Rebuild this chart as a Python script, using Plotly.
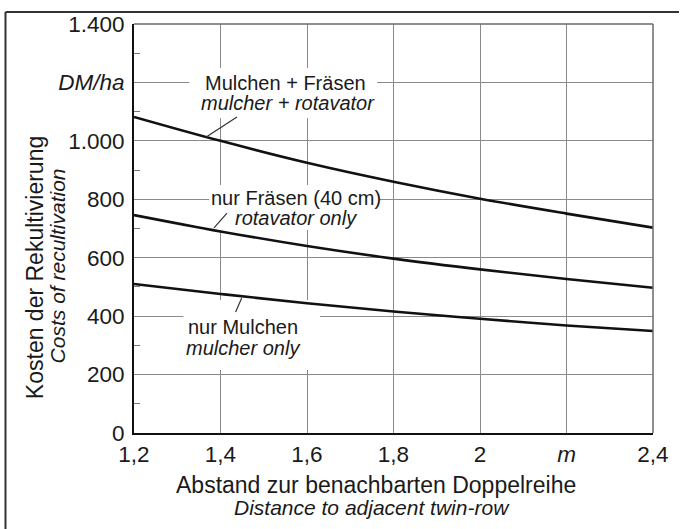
import plotly.graph_objects as go

# ---- data ----
distance = [1.2, 1.4, 1.6, 1.8, 2.0, 2.2, 2.4]
mulch_plus_rotavator = [1082, 1000, 925, 860, 802, 751, 703]
rotavator_only = [746, 690, 640, 597, 560, 527, 497]
mulcher_only = [510, 476, 444, 416, 391, 368, 349]

x_tickvals = [1.2, 1.4, 1.6, 1.8, 2.0, 2.2, 2.4]
x_ticktext = ["1,2", "1,4", "1,6", "1,8", "2", "<i>m</i>", "2,4"]
y_tickvals = [0, 200, 400, 600, 800, 1000, 1200, 1400]
y_ticktext = ["0", "200", "400", "600", "800", "1.000", "<i>DM/ha</i>", "1.400"]
y_minor = [100, 300, 500, 700, 900, 1100, 1300]

FONT = "Liberation Sans, Arial, Helvetica, sans-serif"
TXT = "#1a1a1a"

fig = go.Figure()
for ys in (mulch_plus_rotavator, rotavator_only, mulcher_only):
    fig.add_trace(go.Scatter(x=distance, y=ys, mode="lines",
                             line=dict(color="#111", width=2.6, shape="spline"),
                             showlegend=False, hoverinfo="skip"))

fig.update_layout(
    width=681, height=529,
    margin=dict(l=134, r=22, t=24, b=96),
    paper_bgcolor="white", plot_bgcolor="white",
    font=dict(family=FONT, color=TXT),
    showlegend=False,
)

fig.update_xaxes(range=[1.2, 2.4], tickvals=x_tickvals, ticktext=x_ticktext,
                 tickfont=dict(size=22.5, family=FONT, color=TXT),
                 showgrid=True, gridcolor="#8a8a8a", gridwidth=1,
                 showline=True, linecolor="#111", linewidth=2,
                 ticks="", ticklabelstandoff=0, zeroline=False)
fig.update_yaxes(range=[0, 1400], tickvals=y_tickvals, ticktext=y_ticktext,
                 tickfont=dict(size=22.5, family=FONT, color=TXT),
                 showgrid=True, gridcolor="#8a8a8a", gridwidth=1,
                 showline=True, linecolor="#111", linewidth=2,
                 ticks="", ticklabelstandoff=3, zeroline=False,
                 minor=dict(tickvals=y_minor, ticks="inside", ticklen=6,
                            tickcolor="#777", tickwidth=1, showgrid=False))

# white knock-out boxes behind the curve labels (between grid and traces)
for (x0, x1, y0, y1) in [(1.328, 1.762, 1078, 1249),
                         (1.374, 1.767, 695, 849),
                         (1.314, 1.630, 216, 455)]:
    fig.add_shape(type="rect", xref="x", yref="y", x0=x0, x1=x1, y0=y0, y1=y1,
                  fillcolor="white", line=dict(width=0), layer="between")

# top / right plot border (gray)
fig.add_shape(type="line", xref="paper", yref="paper", x0=0, x1=1, y0=1, y1=1,
              line=dict(color="#6a6a6a", width=1.5))
fig.add_shape(type="line", xref="paper", yref="paper", x0=1, x1=1, y0=0, y1=1,
              line=dict(color="#6a6a6a", width=1.5))

# outer frame (top and left)
fig.add_shape(type="line", xref="paper", yref="paper", x0=-0.2476, x1=1.05,
              y0=1.0293, y1=1.0293, line=dict(color="#333", width=2))
fig.add_shape(type="line", xref="paper", yref="paper", x0=-0.2476, x1=-0.2476,
              y0=1.0293, y1=-0.25, line=dict(color="#333", width=2))

# leader lines
for (xa, ya, xb, yb) in [(1.367, 1013, 1.438, 1082),
                         (1.385, 702, 1.415, 753),
                         (1.435, 414, 1.449, 462)]:
    fig.add_shape(type="line", xref="x", yref="y", x0=xa, y0=ya, x1=xb, y1=yb,
                  line=dict(color="#333", width=1.2))

labels = [
    (1.5497, 1198, "Mulchen + Fräsen"),
    (1.5566, 1130, "<i>mulcher + rotavator</i>"),
    (1.5737, 805, "nur Fräsen (40 cm)"),
    (1.5737, 737, "<i>rotavator only</i>"),
    (1.4514, 363, "nur Mulchen"),
    (1.4514, 291, "<i>mulcher only</i>"),
]
for x, y, t in labels:
    fig.add_annotation(x=x, y=y, xref="x", yref="y", text=t, showarrow=False,
                       font=dict(size=20, family=FONT, color=TXT),
                       xanchor="center", yanchor="middle", borderpad=0)

# axis titles
fig.add_annotation(x=(34 - 134) / 525, y=(433 - 268) / 409, xref="paper", yref="paper",
                   text="Kosten der Rekultivierung", textangle=-90, showarrow=False,
                   font=dict(size=23, family=FONT, color=TXT),
                   xanchor="center", yanchor="middle", borderpad=0)
fig.add_annotation(x=(56.5 - 134) / 525, y=(433 - 266) / 409, xref="paper", yref="paper",
                   text="<i>Costs of recultivation</i>", textangle=-90, showarrow=False,
                   font=dict(size=21, family=FONT, color=TXT),
                   xanchor="center", yanchor="middle", borderpad=0)
fig.add_annotation(x=(379 - 134) / 525, y=(433 - 485) / 409, xref="paper", yref="paper",
                   text="Abstand zur benachbarten Doppelreihe", showarrow=False,
                   font=dict(size=23, family=FONT, color=TXT),
                   xanchor="center", yanchor="middle", borderpad=0)
fig.add_annotation(x=(375 - 134) / 525, y=(433 - 507) / 409, xref="paper", yref="paper",
                   text="<i>Distance to adjacent twin-row</i>", showarrow=False,
                   font=dict(size=21, family=FONT, color=TXT),
                   xanchor="center", yanchor="middle", borderpad=0)

fig.write_html("out.html", config={"displayModeBar": False},
               post_script="document.body.style.margin='0';")
